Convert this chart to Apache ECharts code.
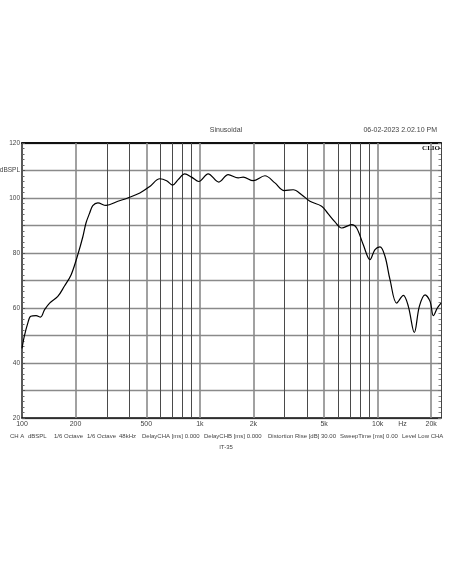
<!DOCTYPE html>
<html>
<head>
<meta charset="utf-8">
<script src="https://cdn.jsdelivr.net/npm/echarts@6/dist/echarts.min.js"></script>
<style>
html,body{margin:0;padding:0;background:#fff;}
#c{width:452px;height:584px;}
</style>
</head>
<body>
<div id="c"></div>
<script>
// Frequency (Hz) and SPL (dB)
const freqs = [100, 103, 108, 112, 120, 127, 134, 143, 159, 173, 189, 206, 220, 229, 240, 250, 267, 297, 346, 393,
  460, 523, 596, 650, 702, 755, 823, 898, 987, 1113, 1279, 1443, 1643, 1753, 1995, 2322, 2643, 2982, 3350, 3735,
  4159, 4840, 5272, 5752, 6273, 7140, 7617, 8299, 9051, 9656, 10300, 10990, 11730, 12790, 13940, 14870, 16070,
  17150, 18460, 19700, 20560, 21650, 22700];
const spl = [45.3, 49.7, 54.7, 57.0, 57.2, 56.7, 59.4, 61.8, 64.2, 67.9, 72.1, 79.4, 86.0, 90.9, 94.5, 97.2, 98.2, 97.3, 98.8, 100.0,
  101.8, 104.2, 107.0, 106.3, 104.7, 106.7, 108.8, 107.6, 106.0, 108.8, 105.8, 108.5, 107.3, 107.6, 106.3, 108.1, 105.5, 102.7, 103.0, 101.2,
  98.8, 97.0, 94.2, 91.3, 89.1, 90.3, 89.1, 83.0, 77.6, 81.2, 82.2, 78.8, 70.3, 61.8, 64.6, 60.6, 51.1,
  60.6, 64.8, 62.4, 57.2, 60.0, 61.8];

// Axis settings / tick labels
const xMin = 100, xMax = 22700;
const yMin = 20, yMax = 120, yStep = 10;
const gridFreqs = [200, 300, 400, 500, 600, 700, 800, 900, 1000, 2000, 3000, 4000, 5000, 6000, 7000, 8000, 9000, 10000, 20000];
const labelFreqs = [100, 200, 500, 1000, 2000, 5000, 10000, 13800, 20000];
const labelTexts = ['100', '200', '500', '1k', '2k', '5k', '10k', 'Hz', '20k'];
const yLabelTexts = {20: '20', 40: '40', 60: '60', 80: '80', 100: '100', 110: 'dBSPL', 120: '120'};

const footerItems = [
  ['CH A', 10], ['dBSPL', 28], ['1/6 Octave', 54], ['1/6 Octave', 87], ['48kHz', 119],
  ['DelayCHA [ms] 0.000', 142], ['DelayCHB [ms] 0.000', 204], ['Distortion Rise [dB] 30.00', 268],
  ['SweepTime [ms] 0.00', 340], ['Level Low CHA', 402]
];

const chart = echarts.init(document.getElementById('c'), null, {renderer: 'canvas'});

const lineData = freqs.map((f, i) => [f, spl[i]]);

const labelFont = {color: '#444', fontSize: 7, fontFamily: 'Liberation Sans'};
const markData = [];
gridFreqs.forEach(f => {
  const li = labelFreqs.indexOf(f);
  const labelled = li >= 0;
  markData.push({
    xAxis: f,
    lineStyle: {color: labelled ? '#8a8a8a' : '#4a4a4a', width: labelled ? 1.6 : 1, type: 'solid'},
    label: Object.assign({show: labelled, formatter: labelled ? labelTexts[li] : '', position: 'start', distance: 3}, labelFont)
  });
});
labelFreqs.forEach((f, i) => {
  if (gridFreqs.indexOf(f) < 0) {
    markData.push({
      xAxis: f,
      lineStyle: {color: 'rgba(0,0,0,0)', width: 0},
      label: Object.assign({show: true, formatter: labelTexts[i], position: 'start', distance: 3}, labelFont)
    });
  }
});

const graphics = [
  {type: 'text', left: 'center', top: 127, style: {text: 'Sinusoidal', fill: '#444', font: '7px "Liberation Sans"'}},
  {type: 'text', right: 15, top: 127, style: {text: '06-02-2023 2.02.10 PM', fill: '#444', font: '7px "Liberation Sans"'}},
  {type: 'text', right: 12, top: 145, z: 10, style: {text: 'CLIO', fill: '#111', font: 'bold 7px "Liberation Serif"'}},
  {type: 'text', left: 'center', top: 444, style: {text: 'IT-35', fill: '#444', font: '6px "Liberation Sans"'}}
];
footerItems.forEach(([t, x]) => {
  graphics.push({type: 'text', left: x, top: 433, style: {text: t, fill: '#444', font: '6px "Liberation Sans"'}});
});

chart.setOption({
  animation: false,
  backgroundColor: '#fff',
  grid: {left: 22, right: 11, top: 143, bottom: 166, containLabel: false, outerBoundsMode: 'none'},
  xAxis: [
    {type: 'log', min: xMin, max: xMax, logBase: 10, position: 'bottom',
      axisLine: {show: true, lineStyle: {color: '#111', width: 1.5}},
      axisTick: {show: false}, axisLabel: {show: false}, splitLine: {show: false}},
    {type: 'log', min: xMin, max: xMax, logBase: 10, position: 'top',
      axisLine: {show: true, lineStyle: {color: '#111', width: 2}},
      axisTick: {show: false}, axisLabel: {show: false}, splitLine: {show: false}}
  ],
  yAxis: [
    {type: 'value', min: yMin, max: yMax, interval: yStep, position: 'left',
      axisLine: {show: true, lineStyle: {color: '#222', width: 1.5}},
      axisTick: {show: true, inside: true, length: 3, lineStyle: {color: '#555'}},
      minorTick: {show: true, splitNumber: 5, length: 2.5, lineStyle: {color: '#666'}},
      axisLabel: {show: true, margin: 2, fontSize: 6.5, color: '#444', fontFamily: 'Liberation Sans',
        formatter: v => yLabelTexts[v] || ''},
      splitLine: {show: true, lineStyle: {color: '#8a8a8a', width: 1.3}}},
    {type: 'value', min: yMin, max: yMax, interval: yStep, position: 'right',
      axisLine: {show: true, lineStyle: {color: '#444', width: 1}},
      axisTick: {show: true, inside: true, length: 3, lineStyle: {color: '#777'}},
      minorTick: {show: true, splitNumber: 5, length: 2.5, lineStyle: {color: '#888'}},
      axisLabel: {show: false}, splitLine: {show: false}}
  ],
  graphic: graphics,
  series: [{
    type: 'line',
    xAxisIndex: 0, yAxisIndex: 0,
    data: lineData,
    smooth: 0.35,
    showSymbol: false,
    symbol: 'none',
    z: 5,
    lineStyle: {color: '#000', width: 1.2},
    markLine: {
      silent: true, symbol: ['none', 'none'], animation: false, z: 1,
      data: markData
    }
  }]
});
</script>
</body>
</html>
